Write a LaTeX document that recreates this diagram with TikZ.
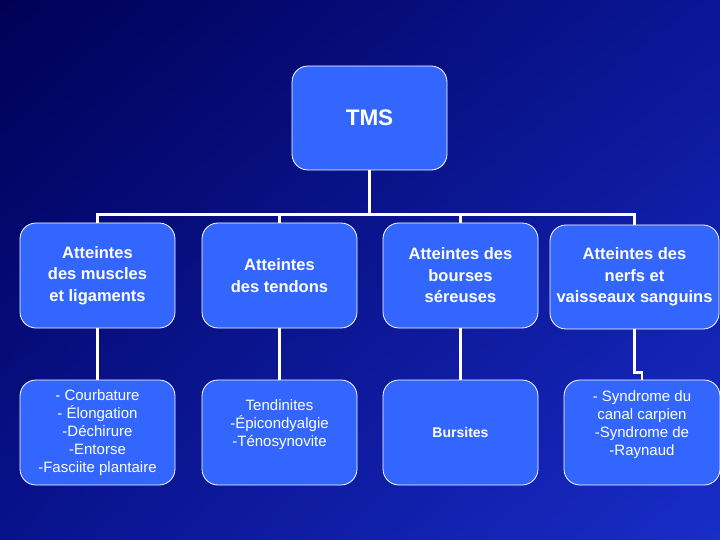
\documentclass[tikz,border=0pt]{standalone}
\usepackage{fontspec}
\setmainfont{Liberation Sans}
\usetikzlibrary{positioning,shadings}

\definecolor{blue1}{RGB}{51,102,255}
\definecolor{navy1}{RGB}{0,0,85}
\definecolor{navy2}{RGB}{10,22,150}
\definecolor{navy3}{RGB}{8,18,140}
\definecolor{navy4}{RGB}{25,45,200}

\tikzstyle{block} = [draw=white, line width=0.8pt, fill=blue1, rounded corners=16pt, text=white, align=center, inner sep=0pt, minimum width=155pt, minimum height=105pt]
\tikzstyle{head} = [font=\fontsize{16.5}{21.5}\selectfont\bfseries]
\tikzstyle{list} = [font=\fontsize{15}{18}\selectfont]
\tikzstyle{link} = [draw=white, line width=2.8pt]

\begin{document}
\begin{tikzpicture}[x=1pt, y=-1pt]
    % background
    \shade[upper left=navy1, upper right=navy2, lower left=navy3, lower right=navy4]
        (0,0) rectangle (720,540);
    \useasboundingbox (0,0) rectangle (720,540);

    % root
    \node[block, minimum height=104pt, font=\fontsize{22.5}{26}\selectfont\bfseries] (tms) at (369.5,118) {TMS};

    % first row
    \node[block, head] (a1) at (97.5,275.5) {Atteintes\\des muscles\\et ligaments};
    \node[block, head] (a2) at (279.5,275.5) {Atteintes\\des tendons};
    \node[block, head] (a3) at (460.5,275.5) {Atteintes des\\bourses\\séreuses};
    \node[block, head, minimum width=169pt, minimum height=104pt] (a4) at (634.5,277) {Atteintes des\\nerfs et\\vaisseaux sanguins};

    % second row
    \node[block, list] (b1) at (97.5,432.5) {- Courbature\\- Élongation\\-Déchirure\\-Entorse\\-Fasciite plantaire};
    \node[block, list] (b2) at (279.5,432.5) {Tendinites\\-Épicondyalgie\\-Ténosynovite\\~};
    \node[block, font=\fontsize{14}{18}\selectfont\bfseries] (b3) at (460.5,432.5) {Bursites};
    \node[block, list, minimum width=156pt] (b4) at (642,432.5) {- Syndrome du\\canal carpien\\-Syndrome de\\-Raynaud\\~};

    % links
    \foreach \n in {a1,a2,a3,a4}
        \draw[link] (tms.south) -- ++(0,44) -| (\n.north);
    \foreach \n in {1,2,3}
        \draw[link] (a\n.south) -- (b\n.north);
    \draw[link] (a4.south) -- ++(0,43) -| (b4.north);
\end{tikzpicture}
\end{document}
